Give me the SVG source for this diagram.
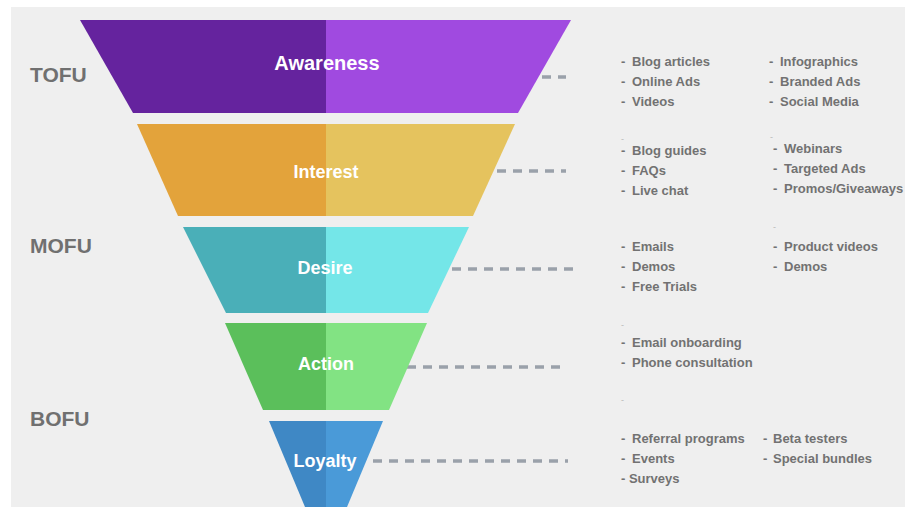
<svg xmlns="http://www.w3.org/2000/svg" width="905" height="507" viewBox="0 0 905 507">
<style>
.stage{stroke:none}
.lbl{font-family:"Liberation Sans",Arial,sans-serif;font-weight:bold;fill:#ffffff;text-anchor:middle;dominant-baseline:central}
.side{font-family:"Liberation Sans",Arial,sans-serif;font-weight:bold;fill:#707070;font-size:21px;dominant-baseline:central}
.item{font-family:"Liberation Sans",Arial,sans-serif;font-weight:bold;fill:#727272;font-size:13px;dominant-baseline:central}
.faint{font-family:"Liberation Sans",Arial,sans-serif;fill:#b8b8b8;font-size:9px;dominant-baseline:central}
.dash{stroke:#9aa1aa;stroke-width:3.5;stroke-dasharray:9 7;fill:none}
</style>
<rect x="0" y="0" width="905" height="507" fill="#ffffff"/>
<rect x="11" y="7" width="894" height="500" fill="#efefef"/>

<g id="connectors">
<line class="dash" x1="542" y1="77" x2="566" y2="77"/>
<line class="dash" x1="497" y1="171" x2="566" y2="171"/>
<line class="dash" x1="452" y1="269" x2="578" y2="269"/>
<line class="dash" x1="407" y1="367" x2="565" y2="367"/>
<line class="dash" x1="373" y1="461" x2="568" y2="461"/>
</g>

<g id="awareness">
<polygon class="stage" points="80,20 326,20 326,113 133,113" fill="#65239e"/>
<polygon class="stage" points="326,20 571,20 518,113 326,113" fill="#a04ae0"/>
<text class="lbl" x="327" y="63" font-size="20">Awareness</text>
</g>
<g id="interest">
<polygon class="stage" points="137,124 326,124 326,216 178,216" fill="#e3a33b"/>
<polygon class="stage" points="326,124 515,124 473,216 326,216" fill="#e5c35e"/>
<text class="lbl" x="326" y="172" font-size="18">Interest</text>
</g>
<g id="desire">
<polygon class="stage" points="183,227 326,227 326,313 226,313" fill="#4aafb8"/>
<polygon class="stage" points="326,227 469,227 428,313 326,313" fill="#74e6e8"/>
<text class="lbl" x="325" y="268" font-size="18">Desire</text>
</g>
<g id="action">
<polygon class="stage" points="225,323 326,323 326,410 263,410" fill="#5bbf5b"/>
<polygon class="stage" points="326,323 427,323 389,410 326,410" fill="#82e383"/>
<text class="lbl" x="326" y="364" font-size="18">Action</text>
</g>
<g id="loyalty">
<polygon class="stage" points="269,421 326,421 326,507 305,507" fill="#3f88c5"/>
<polygon class="stage" points="326,421 383,421 347,507 326,507" fill="#4a9ad8"/>
<text class="lbl" x="325" y="461" font-size="18">Loyalty</text>
</g>

<g id="stages-side">
<text class="side" x="30" y="74">TOFU</text>
<text class="side" x="30" y="245">MOFU</text>
<text class="side" x="30" y="418">BOFU</text>
</g>

<g id="list-awareness">
<text class="item" x="621" y="61">-</text><text class="item" x="632" y="61">Blog articles</text>
<text class="item" x="621" y="81">-</text><text class="item" x="632" y="81">Online Ads</text>
<text class="item" x="621" y="101">-</text><text class="item" x="632" y="101">Videos</text>
<text class="item" x="769" y="61">-</text><text class="item" x="780" y="61">Infographics</text>
<text class="item" x="769" y="81">-</text><text class="item" x="780" y="81">Branded Ads</text>
<text class="item" x="769" y="101">-</text><text class="item" x="780" y="101">Social Media</text>
</g>
<g id="list-interest">
<text class="faint" x="621" y="139">-</text>
<text class="item" x="621" y="150">-</text><text class="item" x="632" y="150">Blog guides</text>
<text class="item" x="621" y="170">-</text><text class="item" x="632" y="170">FAQs</text>
<text class="item" x="621" y="190">-</text><text class="item" x="632" y="190">Live chat</text>
<text class="faint" x="770" y="137">-</text>
<text class="item" x="773" y="148">-</text><text class="item" x="784" y="148">Webinars</text>
<text class="item" x="773" y="168">-</text><text class="item" x="784" y="168">Targeted Ads</text>
<text class="item" x="773" y="188">-</text><text class="item" x="784" y="188">Promos/Giveaways</text>
</g>
<g id="list-desire">
<text class="item" x="621" y="246">-</text><text class="item" x="632" y="246">Emails</text>
<text class="item" x="621" y="266">-</text><text class="item" x="632" y="266">Demos</text>
<text class="item" x="621" y="286">-</text><text class="item" x="632" y="286">Free Trials</text>
<text class="faint" x="773" y="227">-</text>
<text class="item" x="773" y="246">-</text><text class="item" x="784" y="246">Product videos</text>
<text class="item" x="773" y="266">-</text><text class="item" x="784" y="266">Demos</text>
</g>
<g id="list-action">
<text class="faint" x="621" y="325">-</text>
<text class="item" x="621" y="342">-</text><text class="item" x="632" y="342">Email onboarding</text>
<text class="item" x="621" y="362">-</text><text class="item" x="632" y="362">Phone consultation</text>
</g>
<g id="list-loyalty">
<text class="faint" x="621" y="400">-</text>
<text class="item" x="621" y="438">-</text><text class="item" x="632" y="438">Referral programs</text>
<text class="item" x="621" y="458">-</text><text class="item" x="632" y="458">Events</text>
<text class="item" x="621" y="478">- Surveys</text>
<text class="item" x="763" y="438">-</text><text class="item" x="773" y="438">Beta testers</text>
<text class="item" x="763" y="458">-</text><text class="item" x="773" y="458">Special bundles</text>
</g>
</svg>
